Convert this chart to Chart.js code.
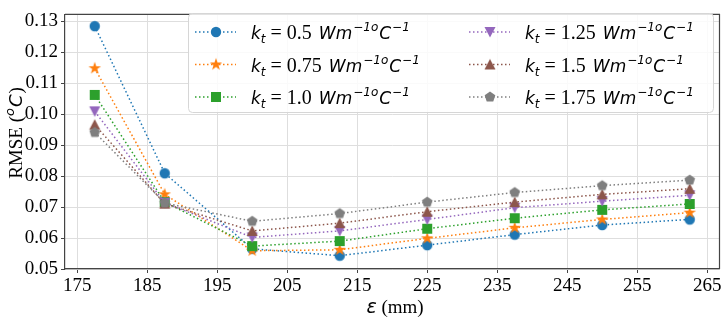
<!DOCTYPE html>
<html>
<head>
<meta charset="utf-8">
<script src="https://cdn.jsdelivr.net/npm/chart.js@4.4.1/dist/chart.umd.min.js"></script>
<style>
  html, body { margin: 0; padding: 0; background: #fff; }
  #wrap { width: 726px; height: 319px; }
</style>
</head>
<body>
<div id="wrap"><canvas id="chart" width="726" height="319"></canvas></div>
<script>
// epsilon (mm) at which RMSE was computed
var epsValues = [177.5, 187.5, 200, 212.5, 225, 237.5, 250, 262.5];
var ktLabels = ["0.5", "0.75", "1.0", "1.25", "1.5", "1.75"];
var rmseKt050 = [0.1284, 0.0809, 0.0565, 0.0543, 0.0577, 0.0611, 0.0642, 0.0660];
var rmseKt075 = [0.1148, 0.0741, 0.0559, 0.0562, 0.0599, 0.0633, 0.0660, 0.0682];
var rmseKt100 = [0.1062, 0.0716, 0.0574, 0.0590, 0.0630, 0.0664, 0.0691, 0.0710];
var rmseKt125 = [0.1009, 0.0714, 0.0602, 0.0623, 0.0660, 0.0698, 0.0719, 0.0738];
var rmseKt150 = [0.0966, 0.0711, 0.0623, 0.0648, 0.0685, 0.0716, 0.0741, 0.0759];
var rmseKt175 = [0.0941, 0.0713, 0.0654, 0.0679, 0.0716, 0.0747, 0.0769, 0.0787];
var xTickValues = [175, 185, 195, 205, 215, 225, 235, 245, 255, 265];
var yTickValues = [0.05, 0.06, 0.07, 0.08, 0.09, 0.10, 0.11, 0.12, 0.13];

var seriesData = [rmseKt050, rmseKt075, rmseKt100, rmseKt125, rmseKt150, rmseKt175];
var colors = ["#1f77b4", "#ff7f0e", "#2ca02c", "#9467bd", "#8c564b", "#7f7f7f"];
var shapes = ["circle", "star", "square", "triDown", "triUp", "pentagon"];

var SERIF = '"Liberation Serif", "Times New Roman", serif';
var SANS = '"DejaVu Sans", sans-serif';

// matplotlib-like marker glyphs, used as Chart.js pointStyle images
function makeMarker(shape, color) {
  var c = document.createElement("canvas");
  c.width = 16; c.height = 16;
  var g = c.getContext("2d");
  g.fillStyle = color;
  g.beginPath();
  var cx = 8, cy = 8, i, a;
  if (shape === "circle") {
    g.arc(cx, cy, 5.2, 0, Math.PI * 2);
  } else if (shape === "square") {
    g.rect(cx - 5, cy - 5, 10, 10);
  } else if (shape === "triDown") {
    g.moveTo(cx - 5.5, cy - 5); g.lineTo(cx + 5.5, cy - 5); g.lineTo(cx, cy + 5.5);
  } else if (shape === "triUp") {
    g.moveTo(cx - 5.5, cy + 5); g.lineTo(cx + 5.5, cy + 5); g.lineTo(cx, cy - 5.5);
  } else if (shape === "pentagon") {
    for (i = 0; i < 5; i++) {
      a = -Math.PI / 2 + i * 2 * Math.PI / 5;
      g.lineTo(cx + 5.6 * Math.cos(a), cy + 5.6 * Math.sin(a));
    }
  } else if (shape === "star") {
    for (i = 0; i < 10; i++) {
      a = -Math.PI / 2 + i * Math.PI / 5;
      var r = (i % 2 === 0) ? 6.6 : 2.6;
      g.lineTo(cx + r * Math.cos(a), cy + r * Math.sin(a));
    }
  }
  g.closePath();
  g.fill();
  return c;
}

var markers = shapes.map(function(s, i) { return makeMarker(s, colors[i]); });

var datasets = seriesData.map(function(vals, i) {
  return {
    label: "k_t = " + ktLabels[i],
    data: epsValues.map(function(x, j) { return { x: x, y: vals[j] }; }),
    borderColor: colors[i],
    backgroundColor: colors[i],
    borderWidth: 1.5,
    borderDash: [1.5, 2.5],
    borderCapStyle: "butt",
    pointStyle: markers[i],
    pointRadius: 5,
    fill: false,
    tension: 0,
    order: 6 - i
  };
});

// draws "k_t = 0.5 Wm^{-1o}C^{-1}" piece by piece
function drawKtLabel(ctx, x, base, value) {
  ctx.fillStyle = "#000";
  ctx.textBaseline = "alphabetic";
  ctx.textAlign = "left";
  ctx.font = "italic 17px " + SANS;
  ctx.fillText("k", x, base);
  x += ctx.measureText("k").width;
  ctx.font = "italic 12px " + SANS;
  ctx.fillText("t", x, base + 4);
  x += ctx.measureText("t").width + 5;
  ctx.font = "20px " + SERIF;
  ctx.fillText("=", x, base);
  x += ctx.measureText("= ").width;
  ctx.fillText(value, x, base);
  x += ctx.measureText(value + " ").width + 2;
  ctx.font = "italic 17px " + SANS;
  ctx.fillText("Wm", x, base);
  x += ctx.measureText("Wm").width + 1;
  ctx.font = "italic 12px " + SANS;
  ctx.fillText("\u22121o", x, base - 8);
  x += ctx.measureText("\u22121o").width + 1;
  ctx.font = "italic 17px " + SANS;
  ctx.fillText("C", x, base);
  x += ctx.measureText("C").width + 1;
  ctx.font = "italic 12px " + SANS;
  ctx.fillText("\u22121", x, base - 8);
}

var decorPlugin = {
  id: "decor",
  afterDatasetsDraw: function(chart) {
    var ctx = chart.ctx, a = chart.chartArea;
    ctx.save();
    // top and right spines
    ctx.strokeStyle = "#444";
    ctx.lineWidth = 1.2;
    ctx.beginPath();
    ctx.moveTo(a.left, a.top); ctx.lineTo(a.right, a.top); ctx.lineTo(a.right, a.bottom);
    ctx.stroke();

    // legend box
    var bx = 188.5, by = 13.5, bw = 525, bh = 99, rr = 4;
    ctx.beginPath();
    ctx.moveTo(bx + rr, by);
    ctx.arcTo(bx + bw, by, bx + bw, by + bh, rr);
    ctx.arcTo(bx + bw, by + bh, bx, by + bh, rr);
    ctx.arcTo(bx, by + bh, bx, by, rr);
    ctx.arcTo(bx, by, bx + bw, by, rr);
    ctx.closePath();
    ctx.fillStyle = "rgba(255,255,255,0.85)";
    ctx.fill();
    ctx.strokeStyle = "#d6d6d6";
    ctx.lineWidth = 1;
    ctx.stroke();

    for (var i = 0; i < datasets.length; i++) {
      var col = Math.floor(i / 3), row = i % 3;
      var hx = 216 + col * 274, hy = 32 + row * 32.5;
      ctx.strokeStyle = colors[i];
      ctx.lineWidth = 1.5;
      ctx.setLineDash([1.5, 2.5]);
      ctx.beginPath();
      ctx.moveTo(hx - 21, hy); ctx.lineTo(hx + 20, hy);
      ctx.stroke();
      ctx.setLineDash([]);
      ctx.drawImage(markers[i], hx - 8, hy - 8);
      drawKtLabel(ctx, 251 + col * 274, hy + 7, ktLabels[i]);
    }

    // x axis title: epsilon (mm)
    ctx.fillStyle = "#000";
    ctx.textBaseline = "alphabetic";
    ctx.textAlign = "left";
    ctx.font = "italic 19px " + SANS;
    var w1 = ctx.measureText("\u03b5").width;
    ctx.font = "19px " + SERIF;
    var w2 = ctx.measureText(" (mm)").width;
    var sx = 395 - (w1 + w2) / 2;
    ctx.font = "italic 19px " + SANS;
    ctx.fillText("\u03b5", sx, 313);
    ctx.font = "19px " + SERIF;
    ctx.fillText(" (mm)", sx + w1, 313);

    // y axis title: RMSE (oC)
    ctx.translate(22, 133);
    ctx.rotate(-Math.PI / 2);
    ctx.font = "19px " + SERIF;
    var p1 = "RMSE (", p4 = ")";
    var t1 = ctx.measureText(p1).width, t4 = ctx.measureText(p4).width;
    ctx.font = "italic 13px " + SANS;
    var t2 = ctx.measureText("o").width;
    ctx.font = "italic 18px " + SANS;
    var t3 = ctx.measureText("C").width;
    var yx = -(t1 + t2 + t3 + t4 + 2) / 2;
    ctx.font = "19px " + SERIF;
    ctx.fillText(p1, yx, 0);
    yx += t1;
    ctx.font = "italic 13px " + SANS;
    ctx.fillText("o", yx, -8);
    yx += t2 + 1;
    ctx.font = "italic 18px " + SANS;
    ctx.fillText("C", yx, 0);
    yx += t3 + 1;
    ctx.font = "19px " + SERIF;
    ctx.fillText(p4, yx, 0);
    ctx.restore();
  }
};

new Chart(document.getElementById("chart"), {
  type: "line",
  data: { datasets: datasets },
  plugins: [decorPlugin],
  options: {
    responsive: false,
    animation: false,
    devicePixelRatio: 1,
    layout: { padding: { top: 3, right: 2, left: 0, bottom: 0 } },
    plugins: { legend: { display: false }, tooltip: { enabled: false } },
    scales: {
      x: {
        type: "linear",
        min: 173.25,
        max: 266.75,
        afterFit: function(s) { s.height = 50; },
        afterBuildTicks: function(s) {
          s.ticks = xTickValues.map(function(v) { return { value: v }; });
        },
        ticks: {
          autoSkip: false,
          maxRotation: 0,
          padding: 2,
          color: "#000",
          font: { family: SERIF, size: 19 },
          callback: function(v) { return String(v); }
        },
        grid: { color: "#dedede", lineWidth: 1, tickColor: "#444", tickLength: 4 },
        border: { color: "#444", width: 1.2 }
      },
      y: {
        type: "linear",
        min: 0.05,
        max: 0.1322,
        afterFit: function(s) { s.width = 65; },
        afterBuildTicks: function(s) {
          s.ticks = yTickValues.map(function(v) { return { value: v }; });
        },
        ticks: {
          autoSkip: false,
          padding: 3,
          color: "#000",
          font: { family: SERIF, size: 19 },
          callback: function(v) { return v.toFixed(2); }
        },
        grid: { color: "#dedede", lineWidth: 1, tickColor: "#444", tickLength: 4 },
        border: { color: "#444", width: 1.2 }
      }
    }
  }
});
</script>
</body>
</html>
